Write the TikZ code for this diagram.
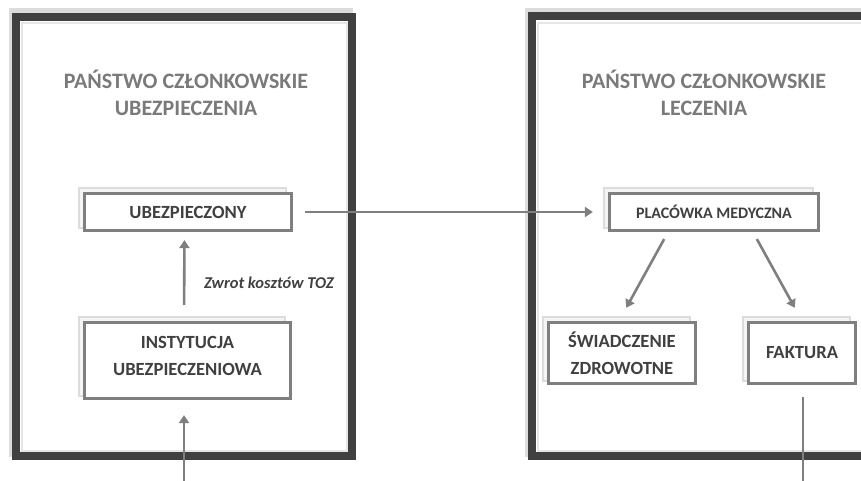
\documentclass[tikz,border=0pt]{standalone}
\usepackage{fontspec}
\setmainfont{Carlito}
\usetikzlibrary{arrows.meta,calc}
\definecolor{frame}{HTML}{404040}
\definecolor{boxline}{HTML}{7F7F7F}
\definecolor{titlegray}{HTML}{7A7A7A}
\definecolor{txt}{HTML}{404040}
\definecolor{shade}{HTML}{DCDCDC}
\tikzset{
  bigframe/.style={draw=frame,line width=8pt},
  bigshadow/.style={draw=shade,line width=5pt},
  titletext/.style={text=titlegray,font=\fontsize{22}{27}\selectfont\bfseries,align=center},
  sbox/.style={draw=boxline,line width=3.2pt,fill=white,text=txt,align=center,
    font=\fontsize{18.6}{27}\selectfont\bfseries,inner sep=0pt},
  sshadow/.style={draw=shade,fill=shade!30,line width=2pt},
  conn/.style={draw=boxline,line width=2.6pt,-{Triangle[length=8pt,width=10pt]}},
  plainconn/.style={draw=boxline,line width=2.6pt},
}
\begin{document}
\begin{tikzpicture}[x=1pt,y=-1pt]
\useasboundingbox (0,0) rectangle (861,481);
\clip (0,0) rectangle (861,481);
% big frames
\draw[bigshadow] (11,11) rectangle (350,454);
\draw[draw=shade!70,line width=2.5pt] (22,23) rectangle (347,451);
\draw[bigframe] (16,17) rectangle (352,456);
\draw[bigshadow] (527,11) rectangle (880,454);
\draw[draw=shade!70,line width=2.5pt] (538,23) rectangle (880,451);
\draw[bigframe] (532,16) rectangle (885,456);
% titles
\node[titletext] (t1) at (186,93) {PAŃSTWO CZŁONKOWSKIE\\UBEZPIECZENIA};
\node[titletext] (t2) at (704,93) {PAŃSTWO CZŁONKOWSKIE\\LECZENIA};
% small box shadows
\draw[sshadow] (79,188) rectangle (286,228);
\draw[sshadow] (79,317) rectangle (285,396);
\draw[sshadow] (604,188) rectangle (813,228);
\draw[sshadow] (543,317) rectangle (690,381);
\draw[sshadow] (743,317) rectangle (850,381);
% small boxes
\node[sbox,minimum width=207pt,minimum height=37pt] (ubez) at (188,212) {UBEZPIECZONY};
\node[sbox,minimum width=206pt,minimum height=76pt] (inst) at (187.5,360.5) {INSTYTUCJA\\UBEZPIECZENIOWA\\[-17pt]};
\node[sbox,minimum width=209pt,minimum height=37pt,font=\fontsize{16}{20}\selectfont\bfseries] (plac) at (714,212) {PLACÓWKA MEDYCZNA};
\node[sbox,minimum width=147pt,minimum height=61pt] (swiad) at (622,353) {ŚWIADCZENIE\\ZDROWOTNE};
\node[sbox,minimum width=107pt,minimum height=61pt] (fakt) at (802,353) {FAKTURA};
% connectors
\draw[conn,shorten <=12pt,shorten >=15pt] (ubez.east) -- (plac.west);
\draw[conn,shorten <=16pt,shorten >=8pt] ([xshift=-3.5pt]inst.north) -- ([xshift=-3.5pt]ubez.south);
\coordinate (inb) at (184,485);
\draw[conn,shorten >=15pt] (inb) -- (inb |- inst.south);
\draw[conn,shorten <=8pt,shorten >=15pt] ([xshift=-46pt]plac.south) -- ([xshift=-3pt]swiad.north);
\draw[conn,shorten <=8pt,shorten >=15pt] ([xshift=39pt]plac.south) -- (fakt.north);
\coordinate (fb) at (803,485);
\draw[plainconn] ([yshift=-12pt]fb |- fakt.south) -- (fb);
\node[text=txt,font=\fontsize{16.5}{18}\selectfont\bfseries\itshape] (lbl) at (269,283) {Zwrot kosztów TOZ};
\end{tikzpicture}
\end{document}
